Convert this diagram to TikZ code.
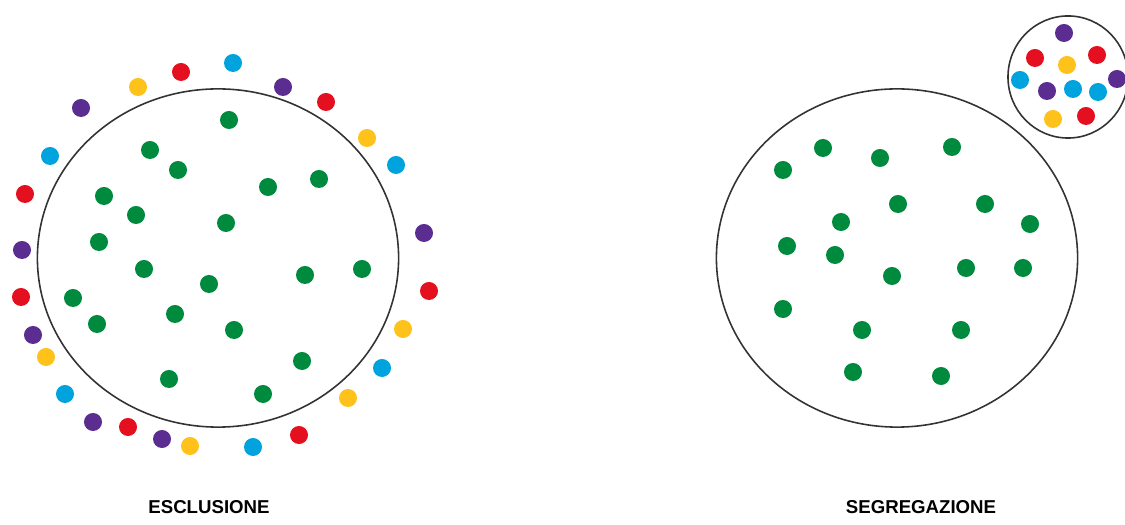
\documentclass[tikz,border=0pt]{standalone}
\usepackage{fontspec}
\newfontfamily\capfont{Liberation Sans}
\usetikzlibrary{shapes.geometric}
\definecolor{dotGreen}{HTML}{008A3E}
\definecolor{dotRed}{HTML}{E4101F}
\definecolor{dotBlue}{HTML}{00A3DD}
\definecolor{dotYellow}{HTML}{FFC21A}
\definecolor{dotPurple}{HTML}{5C2D91}
\tikzset{
  dot/.style={circle, inner sep=0pt, minimum size=0.18cm},
  ring/.style={ellipse, draw=black!80, line width=0.45pt, inner sep=0pt},
  caption/.style={font=\capfont\bfseries\fontsize{5.3}{6}\selectfont, inner sep=0pt}
}

\begin{document}
\begin{tikzpicture}[x=0.01cm, y=-0.01cm]
  \useasboundingbox (0,0) rectangle (1125,525);
  % the two groups
  \node[ring, minimum width=3.61cm, minimum height=3.38cm] (excl) at (218,258) {};
  \node[ring, minimum width=3.61cm, minimum height=3.38cm] (segr) at (897,258) {};
  \node[ring, minimum width=1.20cm, minimum height=1.22cm] (apart) at (1068,77) {};

  % inside the first circle
  \foreach \x/\y [count=\i] in {229/120, 150/150, 178/170, 268/187, 319/179,
      104/196, 136/215, 226/223, 99/242, 144/269, 209/284, 305/275, 362/269,
      73/298, 97/324, 175/314, 234/330, 302/361, 169/379, 263/394}
    \node[dot, fill=dotGreen] (inA\i) at (\x,\y) {};

  % kept outside the first circle
  \foreach \x/\y/\c [count=\i] in {233/63/dotBlue, 181/72/dotRed,
      138/87/dotYellow, 81/108/dotPurple, 50/156/dotBlue, 25/194/dotRed,
      22/250/dotPurple, 21/297/dotRed, 33/335/dotPurple, 46/357/dotYellow,
      65/394/dotBlue, 93/422/dotPurple, 128/427/dotRed, 162/439/dotPurple,
      190/446/dotYellow, 253/447/dotBlue, 299/435/dotRed, 348/398/dotYellow,
      382/368/dotBlue, 403/329/dotYellow, 429/291/dotRed, 424/233/dotPurple,
      396/165/dotBlue, 367/138/dotYellow, 326/102/dotRed, 283/87/dotPurple}
    \node[dot, fill=\c] (outA\i) at (\x,\y) {};

  % inside the second circle
  \foreach \x/\y [count=\i] in {783/170, 823/148, 880/158, 952/147, 898/204,
      985/204, 841/222, 1030/224, 787/246, 835/255, 892/276, 966/268,
      1023/268, 783/309, 862/330, 961/330, 853/372, 941/376}
    \node[dot, fill=dotGreen] (inB\i) at (\x,\y) {};

  % the separate little group
  \foreach \x/\y/\c [count=\i] in {1064/33/dotPurple, 1035/58/dotRed,
      1067/65/dotYellow, 1097/55/dotRed, 1020/80/dotBlue, 1117/79/dotPurple,
      1047/91/dotPurple, 1073/89/dotBlue, 1098/92/dotBlue, 1053/119/dotYellow,
      1086/116/dotRed}
    \node[dot, fill=\c] (outB\i) at (\x,\y) {};

  \node[caption] (lblA) at (209,507) {ESCLUSIONE};
  \node[caption] (lblB) at (921,507) {SEGREGAZIONE};
\end{tikzpicture}
\end{document}
